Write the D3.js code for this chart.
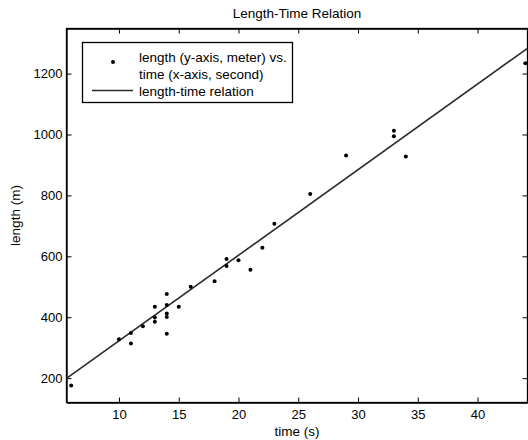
<!DOCTYPE html>
<html>
<head>
<meta charset="utf-8">
<script src="https://cdnjs.cloudflare.com/ajax/libs/d3/7.8.5/d3.min.js"></script>
<style>
  body { margin: 0; background: #fff; }
  svg { display: block; font-family: "Liberation Sans", Arial, sans-serif; }
</style>
</head>
<body>
<svg id="chart"></svg>
<script>
// measured points: time (s) vs length (m)
const timeS = [6, 10, 11, 11, 12, 13, 13, 13, 14, 14, 14, 14, 14, 15, 16, 18, 19, 19, 20, 21, 22, 23, 26, 29, 33, 33, 34, 44];
const lengthM = [176, 328, 348, 314, 370, 434, 399, 385, 476, 440, 412, 401, 346, 434, 500, 518, 591, 568, 587, 556, 628, 707, 805, 931, 1012, 994, 928, 1234];

// fitted relation, end points
const fitT = [5.61, 44.18];
const fitL = [199, 1283];

const xTicks = [10, 15, 20, 25, 30, 35, 40];
const yTicks = [200, 400, 600, 800, 1000, 1200];

const width = 528, height = 440;
const margin = {top: 28.5, right: 0.5, bottom: 37.5, left: 66.5};
const fontSize = 13;

let svg = d3.select("#chart")
    .attr("width", width)
    .attr("height", height);

let x = d3.scaleLinear()
    .domain([fitT[0], fitT[1]])
    .range([margin.left, width - margin.right]);

let y = d3.scaleLinear()
    .domain([120, 1348])
    .range([height - margin.bottom, margin.top]);

const tickLen = 5;

// axes: bottom/left with labels, top/right ticks only (inward)
svg.append("g")
    .attr("transform", `translate(0,${height - margin.bottom})`)
    .call(d3.axisBottom(x).tickValues(xTicks).tickSizeInner(-tickLen).tickSizeOuter(0).tickPadding(7).tickFormat(d3.format("d")))
    .call(g => g.selectAll("text").attr("font-size", fontSize).attr("fill", "#000"));

svg.append("g")
    .attr("transform", `translate(${margin.left},0)`)
    .call(d3.axisLeft(y).tickValues(yTicks).tickSizeInner(-tickLen).tickSizeOuter(0).tickPadding(4).tickFormat(d3.format("d")))
    .call(g => g.selectAll("text").attr("font-size", fontSize).attr("fill", "#000"));

svg.append("g")
    .attr("transform", `translate(0,${margin.top})`)
    .call(d3.axisTop(x).tickValues(xTicks).tickSizeInner(-tickLen).tickSizeOuter(0).tickFormat(""));

svg.append("g")
    .attr("transform", `translate(${width - margin.right},0)`)
    .call(d3.axisRight(y).tickValues(yTicks).tickSizeInner(-tickLen).tickSizeOuter(0).tickFormat(""));

svg.selectAll(".domain").attr("stroke", "#000").attr("stroke-width", 1.3);
svg.selectAll(".tick line").attr("stroke", "#000");

// frame
svg.append("rect")
    .attr("x", margin.left)
    .attr("y", margin.top)
    .attr("width", width - margin.left - margin.right)
    .attr("height", height - margin.top - margin.bottom)
    .attr("fill", "none")
    .attr("stroke", "#000")
    .attr("stroke-width", 1.3);

// fitted line
let line = d3.line()
    .x(d => x(d[0]))
    .y(d => y(d[1]));

svg.append("path")
    .datum(fitT.map((t, i) => [t, fitL[i]]))
    .attr("d", line)
    .attr("fill", "none")
    .attr("stroke", "#2a2a2a")
    .attr("stroke-width", 1.6);

// points
svg.append("g")
    .selectAll("circle")
    .data(timeS.map((t, i) => [t, lengthM[i]]))
    .enter().append("circle")
    .attr("cx", d => x(d[0]))
    .attr("cy", d => y(d[1]))
    .attr("r", 2)
    .attr("fill", "#000");

// title and axis labels
svg.append("text")
    .attr("x", (margin.left + width - margin.right) / 2)
    .attr("y", 18)
    .attr("text-anchor", "middle")
    .attr("font-size", 13.5)
    .text("Length-Time Relation");

svg.append("text")
    .attr("x", (margin.left + width - margin.right) / 2)
    .attr("y", 436)
    .attr("text-anchor", "middle")
    .attr("font-size", 13.5)
    .text("time (s)");

svg.append("text")
    .attr("transform", `translate(20,${(margin.top + height - margin.bottom) / 2}) rotate(-90)`)
    .attr("text-anchor", "middle")
    .attr("font-size", 13.5)
    .text("length (m)");

// legend
let legend = svg.append("g");
legend.append("rect")
    .attr("x", 82.5)
    .attr("y", 42.5)
    .attr("width", 210)
    .attr("height", 60)
    .attr("fill", "#fff")
    .attr("stroke", "#000")
    .attr("stroke-width", 1.3);

legend.append("circle")
    .attr("cx", 113)
    .attr("cy", 62)
    .attr("r", 2)
    .attr("fill", "#000");

legend.append("line")
    .attr("x1", 92).attr("x2", 133)
    .attr("y1", 90.5).attr("y2", 90.5)
    .attr("stroke", "#2a2a2a")
    .attr("stroke-width", 1.6);

const legendLines = ["length (y-axis, meter) vs.", "time (x-axis, second)", "length-time relation"];
const legendBase = [61.5, 79, 95.5];
legend.selectAll("text.lg")
    .data(legendLines)
    .enter().append("text")
    .attr("class", "lg")
    .attr("x", 139)
    .attr("y", (d, i) => legendBase[i])
    .attr("font-size", 13.5)
    .text(d => d);
</script>
</body>
</html>
